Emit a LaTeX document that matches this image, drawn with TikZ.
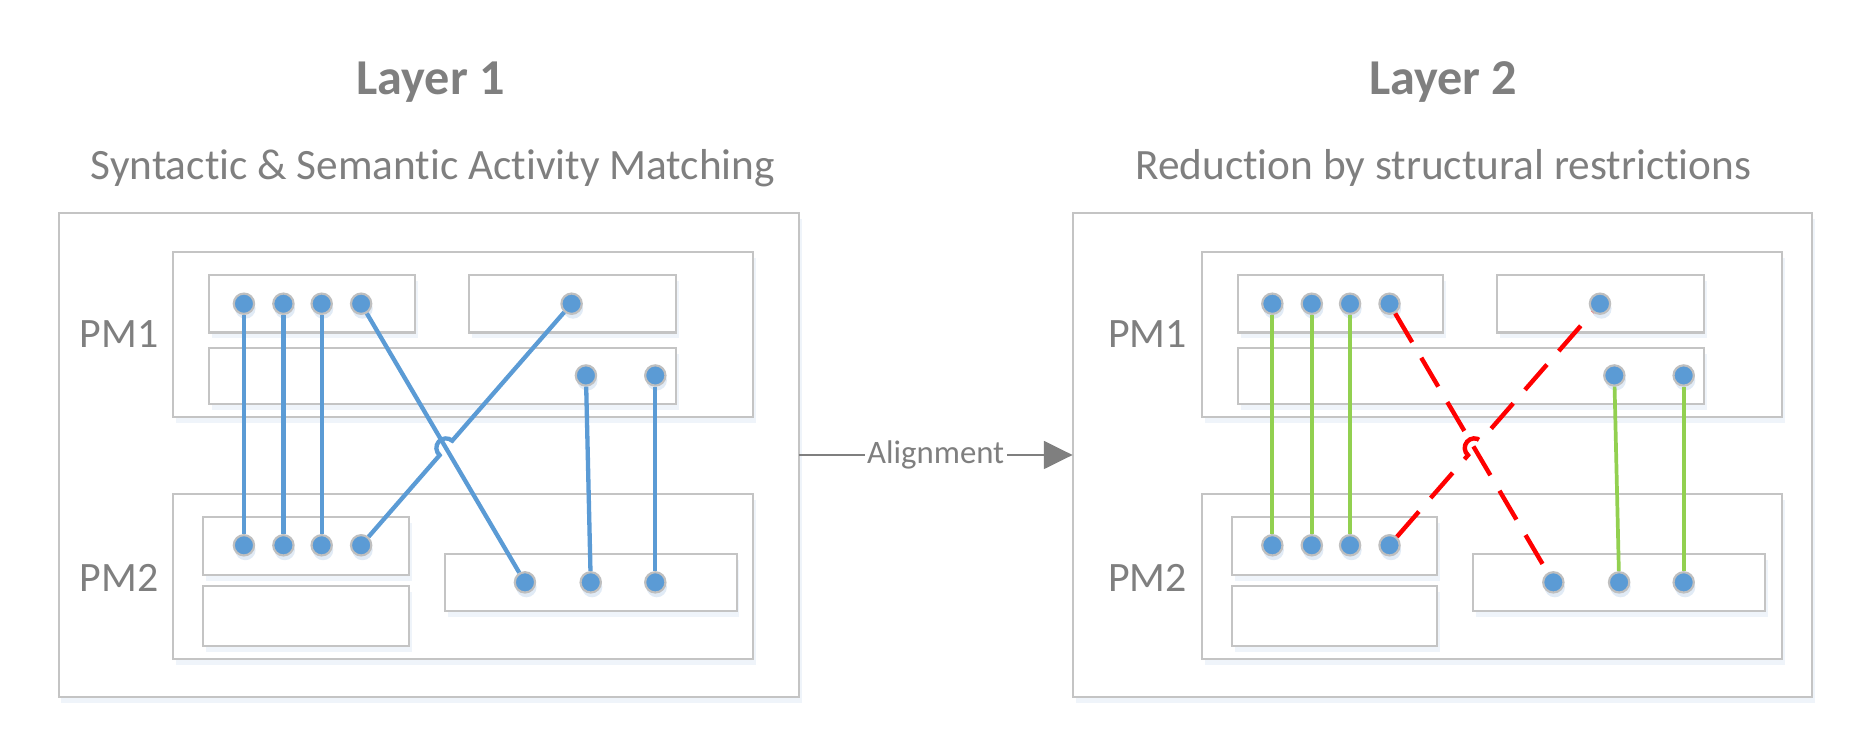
\documentclass[tikz,border=0pt]{standalone}
\usepackage{fontspec}
\setmainfont{Carlito}[Ligatures={NoCommon,TeX}]
\usetikzlibrary{arrows.meta,calc,shadows}
\definecolor{txtgray}{HTML}{7F7F7F}
\definecolor{boxgray}{HTML}{C4C4C4}
\definecolor{dotblue}{HTML}{5B9BD5}
\definecolor{dotrim}{HTML}{BFBFBF}
\definecolor{lnblue}{HTML}{5B9BD5}
\definecolor{lngreen}{HTML}{92D050}
\definecolor{lnred}{HTML}{FF0000}
\definecolor{shadowc}{HTML}{EFF4FA}
\definecolor{dotshadow}{HTML}{E1EBF6}
\tikzset{
  box/.style={draw=boxgray, line width=0.9pt, fill=white, inner sep=0pt, outer sep=0pt,
    drop shadow={shadow xshift=1.2pt, shadow yshift=-2.5pt, fill=shadowc, opacity=1}},
  dot/.style={circle, fill=dotblue, draw=dotrim, line width=0.9pt, minimum size=8.5pt, inner sep=0pt,
    drop shadow={shadow xshift=0.6pt, shadow yshift=-2pt, fill=dotshadow, opacity=1}},
  blueln/.style={draw=lnblue, line width=1.8pt},
  greenln/.style={draw=lngreen, line width=1.55pt},
  redln/.style={draw=lnred, line width=1.85pt, dash pattern=on 14pt off 7.5pt},
  titletxt/.style={text=txtgray, font=\fontsize{21}{25}\selectfont\bfseries, anchor=base},
  subtxt/.style={text=txtgray, font=\fontsize{18.1}{22}\selectfont, anchor=base},
  pmtxt/.style={text=txtgray, font=\fontsize{17.5}{21}\selectfont, anchor=base},
  arrowln/.style={draw=txtgray, line width=1.25pt, -{Triangle[length=12pt,width=11.5pt]}},
  arrowlbl/.style={text=txtgray, font=\fontsize{13.7}{16}\selectfont, fill=white, inner xsep=1pt, inner ysep=1pt}
}
\newcommand\pmbox[5]{\node[box, minimum width={(#4-#2)*0.5pt}, minimum height={(#5-#3)*0.5pt}] (#1) at ({(#2+#4)/2},{(#3+#5)/2}) {};}
\newcommand\pmpanel[1]{%
  \pmbox{#1P1}{145}{211}{630}{349}
  \pmbox{#1P1a}{175}{230}{347}{278}
  \pmbox{#1P1b}{392}{230}{565}{278}
  \pmbox{#1P1c}{175}{291}{565}{338}
  \pmbox{#1P2}{145}{413}{630}{551}
  \pmbox{#1P2a}{170}{432}{342}{481}
  \pmbox{#1P2b}{170}{490}{342}{540}
  \pmbox{#1P2c}{372}{463}{616}{511}
  \node[pmtxt] (#1PM1) at (99.5,291) {PM1};
  \node[pmtxt] (#1PM2) at (99.5,495) {PM2};
  \foreach \x [count=\i] in {204,237,269,302} {\node[dot] (#1a\i) at (\x,254) {};}
  \node[dot] (#1a5) at (478,254) {};
  \node[dot] (#1a6) at (490,314) {};
  \node[dot] (#1a7) at (548,314) {};
  \foreach \x [count=\i] in {204,237,269,302} {\node[dot] (#1b\i) at (\x,456) {};}
  \node[dot] (#1b5) at (439,487) {};
  \node[dot] (#1b6) at (494,487) {};
  \node[dot] (#1b7) at (548,487) {};
}
\newcommand\hopline[4]{%
  \draw[#1] let \p1=($(#3)-(#2)$), \n1={atan2(\y1,\x1)} in
    (#2) -- ($(#4)!4pt!(#2)$) arc[start angle=\n1+180, delta angle=-180, radius=4pt] -- (#3);
}
\begin{document}
\begin{tikzpicture}[x=0.5pt, y=-0.5pt]
  \useasboundingbox (0,0) rectangle (1568,625);
  % titles
  \node[titletxt] (T1) at (360,79) {Layer 1};
  \node[subtxt] (S1) at (362,150.5) {Syntactic \& Semantic Activity Matching};
  \node[titletxt] (T2) at (1207,79) {Layer 2};
  \node[subtxt] (S2) at (1207,150.5) {Reduction by structural restrictions};
  % outer boxes
  \pmbox{Lout}{49}{178}{668}{583}
  \pmbox{Rout}{897}{178}{1515}{583}
  % panels
  \pmpanel{L}
  \begin{scope}[shift={(860,0)}]
    \pmpanel{R}
  \end{scope}
  % left connectors
  \foreach \i in {1,2,3,6,7} {\draw[blueln] (La\i) -- (Lb\i);}
  \draw[blueln] (La4) -- (Lb5);
  \coordinate (LX) at (intersection of La4--Lb5 and Lb4--La5);
  \hopline{blueln}{Lb4}{La5}{LX}
  % right connectors
  \foreach \i in {1,2,3,6,7} {\draw[greenln] (Ra\i) -- (Rb\i);}
  \draw[redln] (Ra4) -- (Rb5);
  \coordinate (RX) at (intersection of Ra4--Rb5 and Rb4--Ra5);
  \hopline{redln}{Rb4}{Ra5}{RX}
  % alignment arrow
  \draw[arrowln] (Lout.east) -- node[arrowlbl] (AL) {Alignment} (Rout.west);
\end{tikzpicture}
\end{document}
